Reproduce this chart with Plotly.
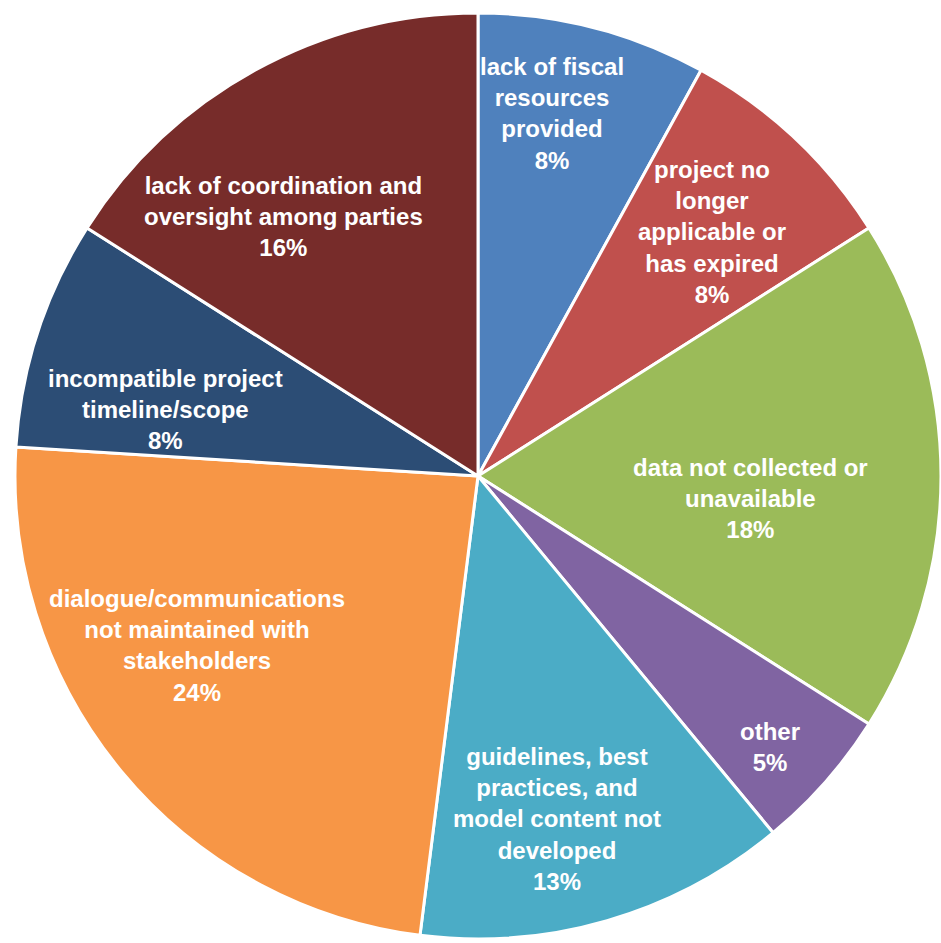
import math
import plotly.graph_objects as go

categories = [
    "lack of fiscal<br>resources<br>provided",
    "project no<br>longer<br>applicable or<br>has expired",
    "data not collected or<br>unavailable",
    "other",
    "guidelines, best<br>practices, and<br>model content not<br>developed",
    "dialogue/communications<br>not maintained with<br>stakeholders",
    "incompatible project<br>timeline/scope",
    "lack of coordination and<br>oversight among parties",
]
values = [8, 8, 18, 5, 13, 24, 8, 16]
colors = ["#4F81BD", "#C0504D", "#9BBB59", "#8064A2", "#4BACC6", "#F79646", "#2C4D75", "#772C2A"]

# label placement (fraction of radius, angular shift in degrees from slice middle)
label_radius = [0.80, 0.73, 0.59, 0.86, 0.76, 0.71, 0.69, 0.70]
label_shift = [-2.9, 0.6, 4.8, 1.4, 3.2, 8.5, -6.0, -8.0]

W, H = 941, 943
x0, x1 = 15, 941
ytop, ybot = 13, 939
cx, cy = (x0 + x1) / 2, (ytop + ybot) / 2
R = min(x1 - x0, ybot - ytop) / 2

fig = go.Figure(go.Pie(
    labels=[c.replace("<br>", " ") for c in categories],
    values=values,
    sort=False,
    direction="clockwise",
    rotation=0,
    marker=dict(colors=colors, line=dict(color="white", width=3)),
    textinfo="none",
    hoverinfo="label+percent",
    domain=dict(x=[x0 / W, x1 / W], y=[1 - ybot / H, 1 - ytop / H]),
))

total = sum(values)
cum = 0
annotations = []
for cat, v, rf, sh in zip(categories, values, label_radius, label_shift):
    mid = (cum + v / 2) / total * 360 + sh
    cum += v
    a = math.radians(mid)
    px = cx + rf * R * math.sin(a)
    py = cy - rf * R * math.cos(a)
    annotations.append(dict(
        x=px / W, y=1 - py / H, xref="paper", yref="paper",
        text=f"{cat}<br>{round(v / total * 100)}%",
        showarrow=False, xanchor="center", yanchor="middle", align="center",
        font=dict(family="Liberation Sans, Arial, sans-serif", size=24, color="white", weight="bold"),
    ))

fig.update_layout(
    width=W, height=H,
    margin=dict(l=0, r=0, t=0, b=0),
    paper_bgcolor="white",
    showlegend=False,
    annotations=annotations,
)
fig.write_html("out.html")
